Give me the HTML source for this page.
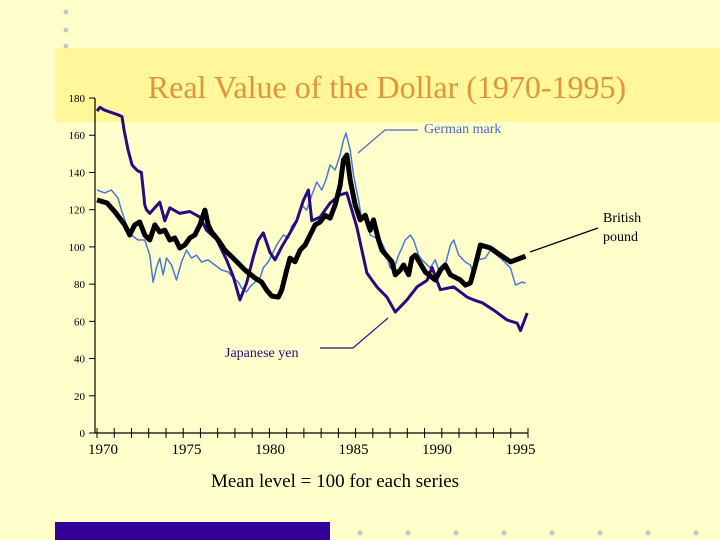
<!DOCTYPE html>
<html><head><meta charset="utf-8"><style>
body{margin:0;background:#ffffcc;}
svg{display:block;font-family:"Liberation Serif",serif;}
</style></head><body>
<svg id="chart" width="720" height="540" viewBox="0 0 720 540" xmlns="http://www.w3.org/2000/svg">
<rect width="720" height="540" fill="#ffffcc"/>
<rect x="55" y="48" width="665" height="74" fill="#fff799"/>
<text x="387" y="98" text-anchor="middle" font-size="32" fill="#e0953c">Real Value of the Dollar (1970-1995)</text>
<g fill="#c8c8c8">
<circle cx="66" cy="12" r="2.5"/><circle cx="66" cy="30" r="2.5"/><circle cx="66" cy="46" r="2.5"/>
<circle cx="360" cy="533" r="2.5"/><circle cx="408" cy="533" r="2.5"/><circle cx="456" cy="533" r="2.5"/><circle cx="504" cy="533" r="2.5"/><circle cx="552" cy="533" r="2.5"/><circle cx="600" cy="533" r="2.5"/><circle cx="648" cy="533" r="2.5"/><circle cx="696" cy="533" r="2.5"/>
</g>
<rect x="55" y="522" width="275" height="18" fill="#330099"/>
<g id="axes"></g>
<g id="series"></g>
<text x="424" y="133" font-size="14" fill="#4a68c8">German mark</text>
<polyline points="358,153 385,130 418,130" fill="none" stroke="#4a68c8" stroke-width="1.2"/>
<text x="603" y="222" font-size="14" fill="#000">British</text>
<text x="603" y="241" font-size="14" fill="#000">pound</text>
<line x1="530" y1="252" x2="598" y2="228" stroke="#000" stroke-width="1.2"/>
<text x="225" y="357" font-size="14" fill="#2a0a80">Japanese yen</text>
<polyline points="320,348 353,348 388,318" fill="none" stroke="#2a0a80" stroke-width="1.2"/>
<text x="335" y="487" text-anchor="middle" font-size="19" fill="#000">Mean level = 100 for each series</text>
</svg>
<script>
const yTicks=[0,20,40,60,80,100,120,140,160,180];
const xLabels=[1970,1975,1980,1985,1990,1995];
const markYears=[69.64,70.1,70.5,70.9,71.1,71.4,71.7,72.1,72.5,72.8,73.0,73.2,73.4,73.6,73.8,74.1,74.4,74.7,75.0,75.3,75.6,75.9,76.3,76.7,77.1,77.5,77.8,78.1,78.3,78.6,78.8,79.1,79.4,79.6,79.9,80.1,80.4,80.6,80.8,81.1,81.3,81.6,81.9,82.2,82.5,82.8,83.1,83.35,83.6,83.9,84.2,84.4,84.55,84.8,85.0,85.3,85.5,85.75,86.0,86.6,86.9,87.2,87.4,87.7,87.9,88.1,88.4,88.6,88.9,89.1,89.6,89.9,90.2,90.5,90.8,91.0,91.3,91.7,92.0,92.2,92.45,92.9,93.2,93.8,94.4,94.7,95.1,95.3];
const markValues=[130.6,129,130.6,126.3,119.8,111.8,106.4,103.7,103.7,95.6,81.1,88.7,94,85,94,90.3,82.2,91.9,98.3,94,95.6,91.9,93,90.3,87.6,86.5,83.3,81.1,77.9,75.8,78.5,81.1,83.3,88.7,92,95.6,101,103.7,106.4,104.8,111.2,114.5,122.5,119.8,127.9,134.9,130.6,136,144,141.3,149.4,157.4,161.2,152,138.6,125.2,114.5,115.5,106.4,103.7,98.3,88.7,87.6,95.6,99.4,103.7,106.4,103.7,95.6,93,88.7,93,85,90.3,101,103.7,95.6,91.9,90.3,85,93,94,98.3,94,88.7,79.5,81.1,80.6];
const yenYears=[69.64,69.82,70.06,70.42,70.9,71.14,71.26,71.5,71.74,72.06,72.3,72.5,72.6,72.8,73.1,73.4,73.7,74.0,74.6,75.2,75.8,76.2,76.8,77.4,77.8,78.2,78.6,79.0,79.3,79.6,80.0,80.3,80.7,81.2,81.6,82.0,82.3,82.5,83.0,83.6,84.2,84.6,85.2,85.8,86.4,87.0,87.5,88.2,88.8,89.4,89.7,90.2,91.0,91.8,92.2,92.7,93.4,94.2,94.8,95.0,95.4];
const yenValues=[173,175,173.6,172.5,171,170,163,152,144,141,140,122.5,120,118,121,124,114,121,118,119,116,109,104,93,84,71.5,80.6,94.6,103.7,107.5,97,93,100,107.5,114,125,130.6,114,116,123.6,128,129,110.7,86,78.5,73,65,71.5,78.5,82,89,77,78.5,73,71.5,70,66,60.7,59,55,64.5];
const poundYears=[69.64,70.24,70.72,71.3,71.6,71.9,72.2,72.5,72.8,73.1,73.4,73.7,74.0,74.3,74.6,74.9,75.2,75.5,75.8,76.1,76.3,76.5,76.9,77.3,77.9,78.5,79.1,79.5,79.8,80.1,80.5,80.7,81.0,81.2,81.5,81.8,82.1,82.4,82.7,83.0,83.3,83.6,83.9,84.2,84.4,84.6,84.8,85.1,85.4,85.7,86.0,86.2,86.5,86.7,87.3,87.5,87.8,88.0,88.3,88.5,88.7,89.3,89.9,90.2,90.5,90.8,91.4,91.7,92.0,92.3,92.6,93.2,93.8,94.4,95.0,95.3];
const poundValues=[125.2,123.6,118.8,111.8,106.4,111.8,113.4,106.4,103.7,111.8,108,109,103.7,104.8,99.4,101,104.8,106.4,111.8,119.8,111.8,108,103.7,98.3,93,87.6,83.3,81.1,76.8,73.6,73,76.8,87.6,94,92,98.3,101,106.4,111.8,113.4,117,115.5,122.5,133,146.7,149.4,136,122.5,114.5,117,109,114.5,103.7,98.3,92,85,87.6,90.3,85,94,95.6,86.5,82.2,87.6,90.3,85,82.2,79.5,80.6,90.3,101,99.4,95.6,92,94,95];

const NS="http://www.w3.org/2000/svg";
function xs(yr){return 103+16.7*(yr-70);}
function ys(v){return 433-1.861*v;}
const axes=document.getElementById('axes');
const series=document.getElementById('series');
function mk(tag,attrs,parent){const e=document.createElementNS(NS,tag);for(const k in attrs)e.setAttribute(k,attrs[k]);parent.appendChild(e);return e;}

const ya=mk('line',{x1:95,y1:ys(0),x2:95,y2:ys(180),stroke:'#000','stroke-width':1.2},axes);


const xa=mk('line',{x1:95,y1:ys(0),x2:528,y2:ys(0),stroke:'#000','stroke-width':1.2},axes);


yTicks.forEach(v=>{
  const t=mk('line',{x1:89,y1:ys(v),x2:95,y2:ys(v),stroke:'#000','stroke-width':1},axes);
  
  
  const l=mk('text',{x:85,y:ys(v)+4,'text-anchor':'end','font-size':11,fill:'#000'},axes);
  l.textContent=v;
  
  
});
for(let i=0;i<=25;i++){
  const x=97+i*(528-97)/25;
  const t=mk('line',{x1:x,y1:ys(0)-5,x2:x,y2:ys(0)+5,stroke:'#000','stroke-width':1},axes);
  
  
}
xLabels.forEach(yr=>{
  const l=mk('text',{x:xs(yr-1900),y:454,'text-anchor':'middle','font-size':15,fill:'#000'},axes);
  l.textContent=yr;
  
  
});
function draw(yrs,vals,color,w,name){
  const pts=yrs.map((y,i)=>xs(y).toFixed(1)+','+ys(vals[i]).toFixed(1)).join(' ');
  const p=mk('polyline',{points:pts,fill:'none',stroke:color,'stroke-width':w,'stroke-linejoin':'round'},series);
  
  
}
draw(markYears,markValues,'#4a78d8',1.5,'german-mark-line');
draw(yenYears,yenValues,'#2a0a80',3,'japanese-yen-line');
draw(poundYears,poundValues,'#000',5,'british-pound-line');
</script>
</body></html>
